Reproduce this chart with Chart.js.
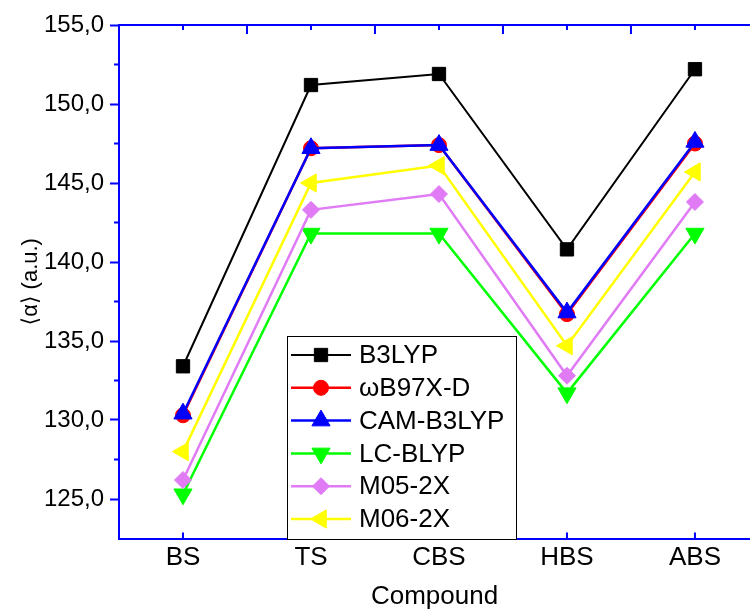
<!DOCTYPE html>
<html>
<head>
  <meta charset="UTF-8">
  <title>Polarizability by compound</title>
  <script src="https://cdn.jsdelivr.net/npm/chart.js"></script>
  <style>
    body {
      margin: 0;
      padding: 0;
      background: #fff;
      overflow: hidden;
    }
    #chart-container {
      width: 750px;
      height: 612px;
    }
  </style>
</head>
<body>
  <div id="chart-container">
    <canvas id="myChart" width="750" height="612"></canvas>
  </div>
  <script>
    // values, <alpha> in a.u.
    const compounds = ['BS', 'TS', 'CBS', 'HBS', 'ABS'];
    const b3lyp    = [133.4, 151.2, 151.9, 140.8, 152.2];
    const wb97xd   = [130.3, 147.2, 147.4, 136.7, 147.5];
    const camb3lyp = [130.4, 147.2, 147.4, 136.8, 147.6];
    const lcblyp   = [125.3, 141.8, 141.8, 131.7, 141.8];
    const m052x    = [126.2, 143.3, 144.3, 132.8, 143.8];
    const m062x    = [128.0, 145.0, 146.1, 134.7, 145.7];
    const yTicks = [125, 130, 135, 140, 145, 150, 155];
    const yMinorTicks = [127.5, 132.5, 137.5, 142.5, 147.5, 152.5];

    const FONT = "'Liberation Sans', Arial, 'DejaVu Sans', sans-serif";
    const AXIS_BLUE = '#0000ff';
    // the original frame runs a little past the right edge of the picture
    const X_VIEW_MAX = 4.43;

    const series = [
      { label: 'B3LYP',     data: b3lyp,    color: '#000000', style: 'rect',     radius: 9.4, rot: 0,   width: 2 },
      { label: 'ωB97X-D',   data: wb97xd,   color: '#ff0000', style: 'circle',   radius: 7.5, rot: 0,   width: 2.5 },
      { label: 'CAM-B3LYP', data: camb3lyp, color: '#0000ff', style: 'triangle', radius: 10.5, rot: 0,  width: 2.5 },
      { label: 'LC-BLYP',   data: lcblyp,   color: '#00ff00', style: 'triangle', radius: 10.5, rot: 180, width: 2.5 },
      { label: 'M05-2X',    data: m052x,    color: '#e07bf5', style: 'rectRot',  radius: 8.5, rot: 0,   width: 2.5 },
      { label: 'M06-2X',    data: m062x,    color: '#ffff00', style: 'triangle', radius: 10.5, rot: 270, width: 2.5 }
    ];

    const fmt = v => Number(v).toFixed(1).replace('.', ',');

    // Origin-style frame: top line with inward ticks, minor y ticks, inner x ticks, boxed legend
    const frame = {
      id: 'frame',
      afterDraw(chart) {
        const ctx = chart.ctx;
        const area = chart.chartArea;
        const x = chart.scales.x;
        const y = chart.scales.y;
        ctx.save();
        ctx.strokeStyle = AXIS_BLUE;
        ctx.lineWidth = 2;
        ctx.beginPath();
        ctx.moveTo(area.left - 1, area.top);
        ctx.lineTo(chart.width, area.top);
        compounds.forEach((name, i) => {
          const px = x.getPixelForValue(i);
          ctx.moveTo(px, area.top);
          ctx.lineTo(px, area.top + 5);
          ctx.moveTo(px, area.bottom);
          ctx.lineTo(px, area.bottom - 6);
          if (i < compounds.length - 1) {
            const mx = x.getPixelForValue(i + 0.5);
            ctx.moveTo(mx, area.top);
            ctx.lineTo(mx, area.top + 9);
          }
        });
        yMinorTicks.forEach(v => {
          const py = y.getPixelForValue(v);
          ctx.moveTo(area.left, py);
          ctx.lineTo(area.left - 5, py);
        });
        ctx.stroke();

        // legend
        const lg = chart.options.plugins.frame;
        ctx.fillStyle = '#fff';
        ctx.fillRect(lg.boxX, lg.boxY, lg.boxW, lg.boxH);
        ctx.strokeStyle = '#000';
        ctx.lineWidth = 1;
        ctx.strokeRect(lg.boxX + 0.5, lg.boxY + 0.5, lg.boxW, lg.boxH);
        ctx.font = lg.fontSize + 'px ' + FONT;
        ctx.textBaseline = 'middle';
        chart.data.datasets.forEach((ds, i) => {
          const cy = lg.boxY + lg.firstRow + i * lg.rowStep;
          ctx.strokeStyle = ds.borderColor;
          ctx.lineWidth = ds.borderWidth;
          ctx.beginPath();
          ctx.moveTo(lg.boxX + 4, cy);
          ctx.lineTo(lg.boxX + 64, cy);
          ctx.stroke();
          ctx.fillStyle = ds.backgroundColor;
          ctx.strokeStyle = ds.borderColor;
          ctx.lineWidth = 1;
          Chart.helpers.drawPoint(ctx, {
            pointStyle: ds.pointStyle,
            rotation: ds.pointRotation,
            radius: ds.pointRadius,
            borderWidth: 1
          }, lg.boxX + 34, cy);
          ctx.fillStyle = '#000';
          ctx.fillText(ds.label, lg.boxX + 72, cy + 1);
        });
        ctx.restore();
      }
    };

    const ctx = document.getElementById('myChart').getContext('2d');
    window.myChart = new Chart(ctx, {
      type: 'line',
      data: {
        datasets: series.map((s, i) => ({
          label: s.label,
          data: s.data.map((v, k) => ({ x: k, y: v })),
          borderColor: s.color,
          backgroundColor: s.color,
          borderWidth: s.width,
          pointStyle: s.style,
          pointRadius: s.radius,
          pointRotation: s.rot,
          pointBorderWidth: 1,
          pointBackgroundColor: s.color,
          pointBorderColor: s.color,
          tension: 0,
          fill: false,
          order: series.length - i
        }))
      },
      options: {
        responsive: false,
        animation: false,
        layout: { autoPadding: false, padding: { top: 25, right: 0, left: 0, bottom: 0 } },
        plugins: {
          legend: { display: false },
          tooltip: { enabled: false },
          frame: { boxX: 287, boxY: 336, boxW: 229, boxH: 203, firstRow: 19, rowStep: 32.8, fontSize: 26 }
        },
        scales: {
          x: {
            type: 'linear',
            min: -0.5,
            max: X_VIEW_MAX,
            afterBuildTicks: s => { s.ticks = compounds.map((name, i) => ({ value: i })); },
            grid: { display: false, drawTicks: false },
            border: { display: true, color: AXIS_BLUE, width: 2 },
            ticks: {
              color: '#000',
              padding: 4,
              autoSkip: false,
              maxRotation: 0,
              font: { family: FONT, size: 26 },
              callback: v => compounds[v]
            },
            title: {
              display: true,
              text: 'Compound',
              color: '#000',
              padding: { top: 0, bottom: 0 },
              font: { family: FONT, size: 26 }
            },
            afterFit: s => { s.height = 73.5; }
          },
          y: {
            min: 122.5,
            max: 155,
            afterBuildTicks: s => { s.ticks = yTicks.map(v => ({ value: v })); },
            grid: {
              drawOnChartArea: false,
              drawTicks: true,
              tickLength: 9,
              tickWidth: 2,
              tickColor: AXIS_BLUE
            },
            border: { display: true, color: AXIS_BLUE, width: 2 },
            ticks: {
              color: '#000',
              padding: 6,
              font: { family: FONT, size: 24 },
              callback: v => fmt(v)
            },
            title: {
              display: true,
              text: '⟨α⟩ (a.u.)',
              color: '#000',
              padding: { top: 18, bottom: 0 },
              font: { family: FONT, size: 22 }
            },
            afterFit: s => { s.width = 119; }
          }
        }
      },
      plugins: [frame]
    });
  </script>
</body>
</html>
